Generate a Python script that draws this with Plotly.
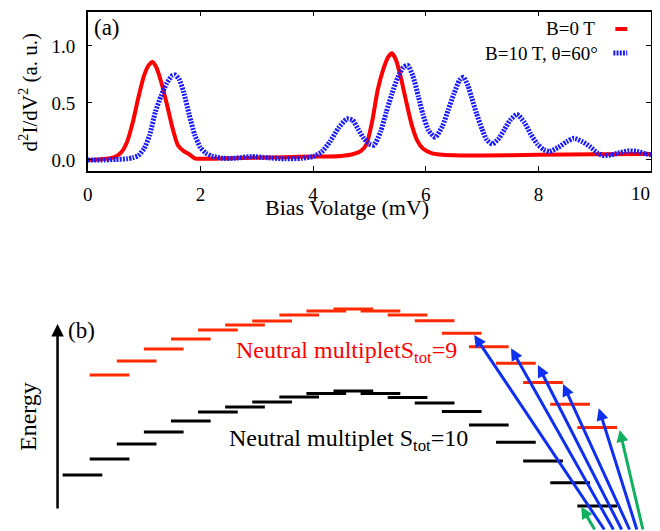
import plotly.graph_objects as go

# ---------------- data: panel (a) ----------------
bias_b0 = [0, 0.2, 0.4, 0.5, 0.6, 0.7, 0.8, 0.9, 1.0, 1.08, 1.15, 1.22, 1.3, 1.4, 1.5, 1.6,
           1.7, 1.8, 1.9, 2.0, 2.5, 3.0, 3.5, 4.0, 4.3, 4.5, 4.7, 4.85, 4.95, 5.05, 5.15,
           5.25, 5.33, 5.4, 5.47, 5.55, 5.65, 5.75, 5.85, 5.95, 6.1, 6.3, 6.6, 7.0, 8.0, 9.0, 10.0]
d2i_b0 = [0.0, 0.005, 0.015, 0.03, 0.07, 0.16, 0.33, 0.55, 0.74, 0.83, 0.86, 0.81, 0.69, 0.50,
          0.29, 0.13, 0.08, 0.05, 0.015, 0.01, 0.015, 0.02, 0.025, 0.03, 0.03, 0.035, 0.05, 0.08,
          0.14, 0.34, 0.62, 0.80, 0.90, 0.935, 0.88, 0.74, 0.52, 0.31, 0.17, 0.10, 0.06, 0.045,
          0.04, 0.04, 0.045, 0.05, 0.053]

bias_b10 = [0, 0.3, 0.5, 0.7, 0.8, 0.9, 1.0, 1.1, 1.2, 1.3, 1.4, 1.5, 1.55, 1.62, 1.7, 1.8, 1.9,
            2.0, 2.1, 2.2, 2.4, 2.6, 2.9, 3.2, 3.5, 3.8, 4.0, 4.15, 4.3, 4.45, 4.6, 4.7, 4.8, 4.9,
            5.0, 5.08, 5.2, 5.3, 5.4, 5.5, 5.6, 5.68, 5.77, 5.87, 5.95, 6.05, 6.17, 6.3, 6.4, 6.5,
            6.6, 6.67, 6.75, 6.82, 6.9, 7.0, 7.08, 7.18, 7.3, 7.4, 7.5, 7.62, 7.75, 7.86, 7.98,
            8.1, 8.2, 8.35, 8.5, 8.63, 8.78, 8.92, 9.05, 9.15, 9.3, 9.45, 9.6, 9.75, 9.9, 10.0]
d2i_b10 = [0.0, 0.0, 0.005, 0.01, 0.02, 0.04, 0.10, 0.22, 0.42, 0.56, 0.67, 0.74, 0.745, 0.71,
           0.60, 0.40, 0.22, 0.11, 0.06, 0.035, 0.015, 0.015, 0.03, 0.02, 0.01, 0.015, 0.03, 0.07,
           0.16, 0.28, 0.36, 0.35, 0.27, 0.19, 0.14, 0.13, 0.25, 0.42, 0.58, 0.72, 0.81, 0.83,
           0.74, 0.555, 0.40, 0.26, 0.20, 0.30, 0.44, 0.58, 0.70, 0.725, 0.65, 0.54, 0.41, 0.27,
           0.18, 0.14, 0.19, 0.27, 0.35, 0.40, 0.33, 0.23, 0.14, 0.09, 0.075, 0.11, 0.16, 0.19,
           0.16, 0.115, 0.06, 0.04, 0.045, 0.065, 0.08, 0.075, 0.055, 0.045]

x_ticks = [0, 2, 4, 6, 8, 10]
x_ticklabels = ["0", "2", "4", "6", "8", "10"]
y_ticks = [0.0, 0.5, 1.0]
y_ticklabels = ["0.0", "0.5", "1.0"]
legend_b0 = "B=0 T"
legend_b10 = "B=10 T, θ=60°"

# ---------------- data: panel (b) ----------------
m_s10 = list(range(-10, 10))           # visible levels of S_tot=10 multiplet
e_s10 = [5.6, 7.2, 8.7, 9.9, 11.0, 11.9, 12.4, 12.9, 13.4, 13.75, 14.0, 13.75, 13.35, 12.8,
         11.95, 10.6, 8.87, 7.0, 4.83, 2.5]
m_s9 = list(range(-9, 10))             # levels of S_tot=9 multiplet
e_s9 = [15.6, 17.0, 18.2, 19.2, 20.1, 20.6, 21.0, 21.6, 22.0, 22.2, 22.0, 21.6, 21.03, 19.77,
        18.43, 16.77, 14.85, 12.67, 10.35]

blue_tip_m = [4.46, 5.82, 6.81, 7.74, 9.06]
blue_tip_e = [19.6, 18.27, 16.6, 14.7, 12.27]
blue_tail_m = [9.30, 9.63, 9.93, 10.22, 10.48]
green_tip_m = [9.83, 8.41]
green_tip_e = [10.1, 2.43]
green_tail_m = [10.70, 8.94]
tail_e = 0.0

HALF_W = 0.733
FONT = "Liberation Serif, Times New Roman, serif"

# page offset (default body margin) and figure size
OFF = 8
W, H = 660 - OFF, 531 - OFF


def px(x):
    return (x - OFF) / W


def py(y):
    return 1 - (y - OFF) / H


def segments(ms, es):
    xs, ys = [], []
    for m, e in zip(ms, es):
        xs += [m - HALF_W, m + HALF_W, None]
        ys += [e, e, None]
    return xs, ys


fig = go.Figure()

fig.add_trace(go.Scatter(x=bias_b0, y=d2i_b0, mode="lines",
                         line=dict(color="#ff0000", width=4, shape="spline", smoothing=0.6),
                         xaxis="x", yaxis="y", showlegend=False, name=legend_b0))
fig.add_trace(go.Scatter(x=bias_b10, y=d2i_b10, mode="lines",
                         line=dict(color="#1a1aff", width=5, dash="2px,1.2px", shape="spline", smoothing=0.6),
                         xaxis="x", yaxis="y", showlegend=False, name=legend_b10))

sx, sy = segments(m_s10, e_s10)
fig.add_trace(go.Scatter(x=sx, y=sy, mode="lines", line=dict(color="black", width=3),
                         xaxis="x2", yaxis="y2", showlegend=False, hoverinfo="skip"))
sx, sy = segments(m_s9, e_s9)
fig.add_trace(go.Scatter(x=sx, y=sy, mode="lines", line=dict(color="#ff2a00", width=3),
                         xaxis="x2", yaxis="y2", showlegend=False, hoverinfo="skip"))

ann = []
for tm, te, am in zip(blue_tip_m, blue_tip_e, blue_tail_m):
    ann.append(dict(x=tm, y=te, ax=am, ay=tail_e, xref="x2", yref="y2", axref="x2", ayref="y2",
                    text="", showarrow=True, arrowhead=2, arrowsize=0.8, arrowwidth=3, arrowcolor="#1030f0"))
for tm, te, am in zip(green_tip_m, green_tip_e, green_tail_m):
    ann.append(dict(x=tm, y=te, ax=am, ay=tail_e, xref="x2", yref="y2", axref="x2", ayref="y2",
                    text="", showarrow=True, arrowhead=2, arrowsize=0.8, arrowwidth=3, arrowcolor="#10b060"))

# energy axis arrow
ann.append(dict(x=-10.92, y=20.7, ax=-10.92, ay=2.1, xref="x2", yref="y2", axref="x2", ayref="y2",
                text="", showarrow=True, arrowhead=2, arrowsize=1.0, arrowwidth=2.5, arrowcolor="black"))
ann.append(dict(x=-12.01, y=11.4, xref="x2", yref="y2", text="Energy", textangle=-90, showarrow=False,
                xanchor="center", yanchor="middle",
                font=dict(family=FONT, size=24, color="black")))
ann.append(dict(x=-10.02, y=20.1, xref="x2", yref="y2", text="(b)", showarrow=False,
                xanchor="center", yanchor="middle",
                font=dict(family=FONT, size=23, color="black")))
ann.append(dict(x=-4.4, y=17.9, xref="x2", yref="y2", xanchor="left", yanchor="middle",
                text="Neutral multipletS<sub>tot</sub>=9", showarrow=False,
                font=dict(family=FONT, size=24, color="#ff0000")))
ann.append(dict(x=-4.65, y=9.1, xref="x2", yref="y2", xanchor="left", yanchor="middle",
                text="Neutral multiplet S<sub>tot</sub>=10", showarrow=False,
                font=dict(family=FONT, size=24, color="black")))

# last x tick label drawn right-aligned so that it stays inside the visible page
ann.append(dict(x=x_ticks[-1], y=py(193.5), xref="x", yref="paper", text=x_ticklabels[-1],
                xanchor="right", xshift=1, yanchor="middle", showarrow=False,
                font=dict(family=FONT, size=19, color="black")))

# panel (a) texts
ann.append(dict(x=px(103), y=py(27), xref="paper", yref="paper", text="(a)", showarrow=False,
                xanchor="center", yanchor="middle", font=dict(family=FONT, size=23, color="black")))
ann.append(dict(x=px(597), y=py(29), xref="paper", yref="paper", text=legend_b0, xanchor="right",
                yanchor="middle", showarrow=False, font=dict(family=FONT, size=19, color="black")))
ann.append(dict(x=px(600), y=py(53), xref="paper", yref="paper", text=legend_b10, xanchor="right",
                yanchor="middle", showarrow=False, font=dict(family=FONT, size=19, color="black")))
ann.append(dict(x=px(344.5), y=py(208), xref="paper", yref="paper", text="Bias Volatge (mV)",
                xanchor="center", yanchor="middle",
                showarrow=False, font=dict(family=FONT, size=22, color="black")))
ann.append(dict(x=px(24), y=py(91.5), xref="paper", yref="paper",
                text="d<sup>2</sup>I/dV<sup>2</sup> (a. u.)", textangle=-90,
                xanchor="center", yanchor="middle",
                showarrow=False, font=dict(family=FONT, size=21, color="black")))

shapes = [
    dict(type="line", xref="paper", yref="paper", x0=px(615), x1=px(627), y0=py(29), y1=py(29),
         line=dict(color="#ff0000", width=4)),
    dict(type="line", xref="paper", yref="paper", x0=px(613), x1=px(627), y0=py(53), y1=py(53),
         line=dict(color="#1a1aff", width=5, dash="2px,1.2px")),
]

axis_common = dict(showline=True, linecolor="black", linewidth=1.5, mirror="ticks", ticks="inside",
                   ticklen=5, tickcolor="black", showgrid=False, zeroline=False,
                   tickfont=dict(family=FONT, size=19, color="black"))

# bottom panel coordinate frame: level index M horizontally, energy vertically
m_left = (OFF - 351) / 27.3
m_right = (660 - 351) / 27.3
e_top = (0.5 * H) / 10

fig.update_layout(
    width=W, height=H, margin=dict(l=0, r=0, t=0, b=0),
    paper_bgcolor="white", plot_bgcolor="white",
    xaxis=dict(domain=[px(83.3), px(651)], range=[0, 10], tickvals=x_ticks,
               ticktext=x_ticklabels[:-1] + [""], anchor="y", ticklabelstandoff=5, **axis_common),
    yaxis=dict(domain=[py(171), py(11.7)], range=[-0.0965, 1.3], tickvals=y_ticks,
               ticktext=y_ticklabels, anchor="x", ticklabelstandoff=7, **axis_common),
    xaxis2=dict(domain=[0, 1], range=[m_left, m_right], visible=False, anchor="y2"),
    yaxis2=dict(domain=[0, 0.5], range=[0, e_top], visible=False, anchor="x2"),
    annotations=ann, shapes=shapes,
)

fig.write_html("out.html")
